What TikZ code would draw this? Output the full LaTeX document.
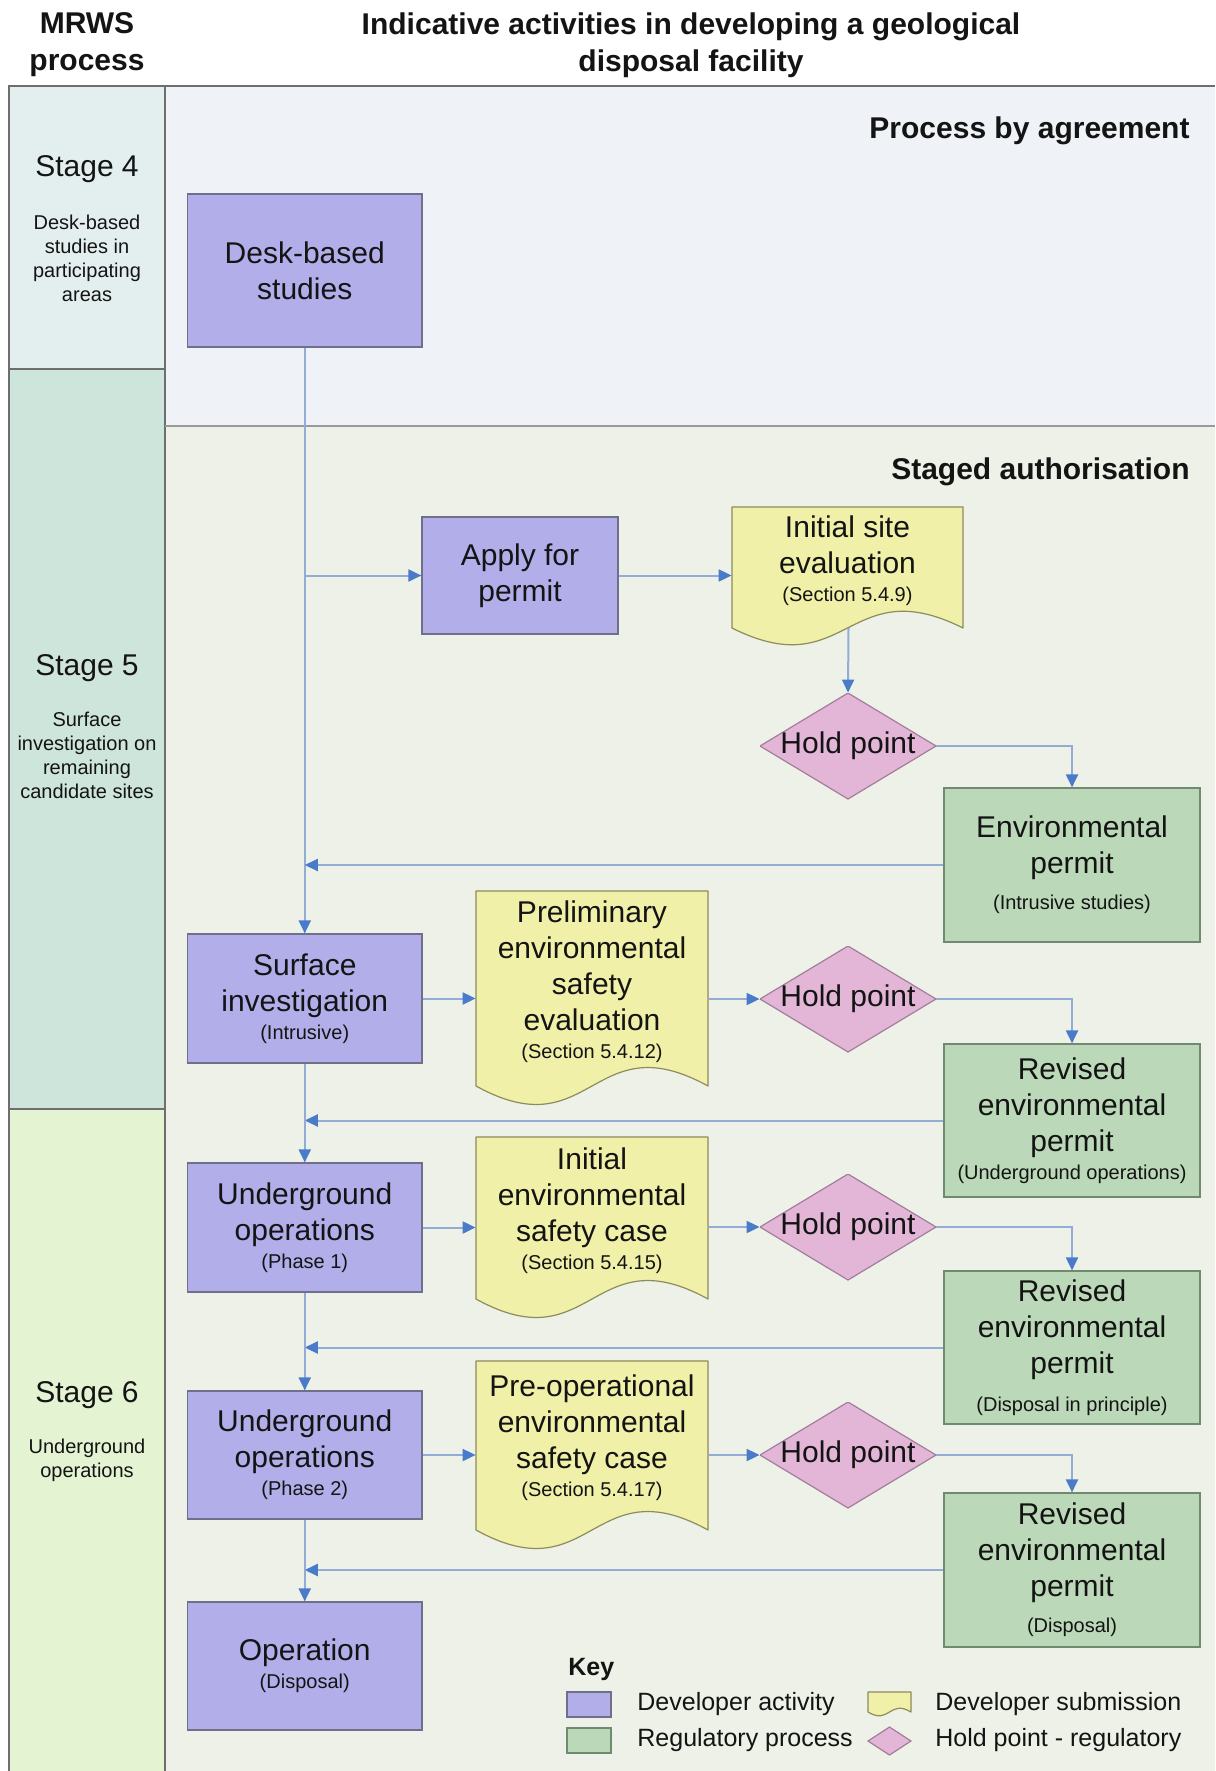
\documentclass[tikz,border=0pt]{standalone}
\usepackage{fontspec}
\setmainfont{Liberation Sans}
\usetikzlibrary{arrows.meta}

% colours
\definecolor{devfill}{HTML}{B2AEEA}
\definecolor{devline}{HTML}{6F6F8C}
\definecolor{regfill}{HTML}{BBD9B8}
\definecolor{regline}{HTML}{6F8A6F}
\definecolor{docfill}{HTML}{F0F0A9}
\definecolor{docline}{HTML}{8C8C5C}
\definecolor{holdfill}{HTML}{E3B5D7}
\definecolor{holdline}{HTML}{A27D9C}
\definecolor{stagefour}{HTML}{E3EFEF}
\definecolor{stagefive}{HTML}{CDE5DA}
\definecolor{stagesix}{HTML}{E4F4D2}
\definecolor{upperpanel}{HTML}{EFF3F8}
\definecolor{lowerpanel}{HTML}{EDF1E7}
\definecolor{connline}{HTML}{93ACD6}
\definecolor{headblue}{HTML}{4A7BCB}
\definecolor{framegray}{HTML}{6E6E6E}
\definecolor{inkcol}{HTML}{141414}

% font sizes
\newcommand\mainfs{\fontsize{15}{18}\selectfont}
\newcommand\titlefs{\fontsize{15}{18.5}\selectfont}
\newcommand\subfs{\fontsize{10}{12}\selectfont}
\newcommand\keyfs{\fontsize{12.5}{15}\selectfont}

% document shape: left x, right x, top y, baseline y, wave control offset
\newcommand\DocShape[5]{%
  \filldraw[fill=docfill,draw=docline,line width=0.6pt,line join=round]
    (#1,#3) -- (#2,#3) -- (#2,#4)
    .. controls ({(#1+#2)/2},{#4-#5}) and ({(#1+#2)/2},{#4+#5}) .. (#1,#4) -- cycle;}

\tikzset{
  every node/.style={text=inkcol},
  dev/.style={draw=devline, fill=devfill, line width=0.6pt, minimum width=117.25pt,
    inner sep=0pt, align=center, font=\mainfs},
  reg/.style={draw=regline, fill=regfill, line width=0.6pt, minimum width=128pt,
    inner sep=0pt, align=center, font=\mainfs},
  doctext/.style={inner sep=0pt, align=center, font=\mainfs},
  holdpt/.style={rectangle, minimum width=88pt, minimum height=53pt, inner sep=0pt,
    font=\mainfs,
    path picture={\filldraw[fill=holdfill,draw=holdline,line width=0.6pt]
      (path picture bounding box.north) -- (path picture bounding box.east)
      -- (path picture bounding box.south) -- (path picture bounding box.west) -- cycle;}},
  conn/.style={draw=connline, line width=1pt},
  arr/.style={conn, -{Triangle[length=6.5pt,width=6pt,color=headblue]}},
  frame/.style={draw=framegray, line width=0.7pt},
  heading/.style={font=\bfseries\titlefs, align=center, inner sep=0pt},
  stagehead/.style={font=\mainfs, inner sep=0pt},
  stagedesc/.style={font=\subfs, align=center, inner sep=0pt},
  keytext/.style={font=\keyfs, inner sep=0pt, anchor=west},
}

\begin{document}
\begin{tikzpicture}[x=0.5pt, y=-0.5pt]
\useasboundingbox (0,0) rectangle (1215,1771);

% background bands
\fill[white] (0,0) rectangle (1215,1771);
\fill[stagefour] (9,86) rectangle (165,369);
\fill[stagefive] (9,369) rectangle (165,1109);
\fill[stagesix] (9,1109) rectangle (165,1771);
\fill[upperpanel] (165,86) rectangle (1215,426);
\fill[lowerpanel] (165,426) rectangle (1215,1771);
\draw[frame] (9,1771) -- (9,86) -- (1215,86);
\draw[frame] (165,86) -- (165,1771);
\draw[frame] (9,369) -- (165,369);
\draw[frame] (9,1109) -- (165,1109);
\draw[draw=gray!80, line width=1pt] (165,426) -- (1215,426);

% column headings
\node[heading] (hmrws) at (87,45) {MRWS\\process};
\node[heading] (hact) at (691,45) {Indicative activities in developing a geological\\disposal facility};
\node[heading, anchor=east] (hagree) at (1190,131) {Process by agreement};
\node[heading, anchor=east] (hstaged) at (1190,471.5) {Staged authorisation};

% stage labels
\node[stagehead] (s4) at (87,169.5) {Stage 4};
\node[stagedesc] (s4d) at (87,258) {Desk-based\\studies in\\participating\\areas};
\node[stagehead] (s5) at (87,668.5) {Stage 5};
\node[stagedesc] (s5d) at (87,755) {Surface\\investigation on\\remaining\\candidate sites};
\node[stagehead] (s6) at (87,1395.5) {Stage 6};
\node[stagedesc] (s6d) at (87,1460) {Underground\\operations};

% developer activities
\node[dev, minimum height=76.5pt] (desk) at (304.75,270.5) {Desk-based\\studies};
\node[dev, minimum width=98pt, minimum height=58.5pt] (apply) at (520,575.5) {Apply for\\permit};
\node[dev, minimum height=64.5pt] (surf) at (304.75,998.5) {Surface\\investigation\\[-4pt]{\subfs (Intrusive)}};
\node[dev, minimum height=64.5pt] (ugone) at (304.75,1227.5) {Underground\\operations\\[-4pt]{\subfs (Phase 1)}};
\node[dev, minimum height=64pt] (ugtwo) at (304.75,1455) {Underground\\operations\\[-4pt]{\subfs (Phase 2)}};
\node[dev, minimum height=64pt] (oper) at (304.75,1666) {Operation\\[-4pt]{\subfs (Disposal)}};

% developer submissions
\DocShape{732}{963}{507}{628}{58}
\DocShape{476}{708}{891}{1086}{64}
\DocShape{476}{708}{1137}{1299}{64}
\DocShape{476}{708}{1361}{1530}{64}
\node[doctext, minimum width=115.5pt] (docone) at (847.5,561) {Initial site\\evaluation\\[-4pt]{\subfs (Section 5.4.9)}};
\node[doctext, minimum width=116pt] (doctwo) at (592,982) {Preliminary\\environmental\\safety\\evaluation\\[-4pt]{\subfs (Section 5.4.12)}};
\node[doctext, minimum width=116pt] (docthree) at (592,1211) {Initial\\environmental\\safety case\\[-4pt]{\subfs (Section 5.4.15)}};
\node[doctext, minimum width=116pt] (docfour) at (592,1437.5) {Pre-operational\\environmental\\safety case\\[-4pt]{\subfs (Section 5.4.17)}};
\coordinate (doconeout) at (848.5,628);

% hold points
\node[holdpt] (holdone) at (848,746) {Hold point};
\node[holdpt] (holdtwo) at (848,999) {Hold point};
\node[holdpt] (holdthree) at (848,1227) {Hold point};
\node[holdpt] (holdfour) at (848,1455) {Hold point};

% regulatory process
\node[reg, minimum height=77pt] (envp) at (1072,865) {Environmental\\permit\\[0pt]{\subfs (Intrusive studies)}};
\node[reg, minimum height=76.5pt] (revone) at (1072,1120.5) {Revised\\environmental\\permit\\[-4pt]{\subfs (Underground operations)}};
\node[reg, minimum height=76.5pt] (revtwo) at (1072,1347.5) {Revised\\environmental\\permit\\[1pt]{\subfs (Disposal in principle)}};
\node[reg, minimum height=77pt] (revthree) at (1072,1570) {Revised\\environmental\\permit\\[0pt]{\subfs (Disposal)}};

% main trunk and branches
\draw[arr] (desk.south) -- (surf.north);
\draw[arr] (apply.west -| desk.south) -- (apply.west);
\draw[arr] (apply.east) -- (apply.east -| docone.west);
\draw[arr] (doconeout) -- (holdone.north);
\draw[arr] (holdone.east) -| (envp.north);
\draw[arr] (envp.west) -- (envp.west -| desk.south);

\draw[arr] (surf.east) -- (surf.east -| doctwo.west);
\draw[arr] (holdtwo.west -| doctwo.east) -- (holdtwo.west);
\draw[arr] (holdtwo.east) -| (revone.north);
\draw[arr] (revone.west) -- (revone.west -| surf.south);
\draw[arr] (surf.south) -- (ugone.north);

\draw[arr] (ugone.east) -- (ugone.east -| docthree.west);
\draw[arr] (holdthree.west -| docthree.east) -- (holdthree.west);
\draw[arr] (holdthree.east) -| (revtwo.north);
\draw[arr] (revtwo.west) -- (revtwo.west -| ugone.south);
\draw[arr] (ugone.south) -- (ugtwo.north);

\draw[arr] (ugtwo.east) -- (ugtwo.east -| docfour.west);
\draw[arr] (holdfour.west -| docfour.east) -- (holdfour.west);
\draw[arr] (holdfour.east) -| (revthree.north);
\draw[arr] (revthree.west) -- (revthree.west -| ugtwo.south);
\draw[arr] (ugtwo.south) -- (oper.north);

% key
\node[font=\bfseries\keyfs, inner sep=0pt, anchor=west] (keyhead) at (568,1669) {Key};
\node[draw=devline, fill=devfill, line width=0.6pt, minimum width=22pt, minimum height=12.5pt, inner sep=0pt] (keydev) at (589,1704.5) {};
\node[draw=regline, fill=regfill, line width=0.6pt, minimum width=22pt, minimum height=12.5pt, inner sep=0pt] (keyreg) at (589,1740.5) {};
\DocShape{868}{911}{1692}{1712}{13}
\filldraw[fill=holdfill, draw=holdline, line width=0.6pt] (889.5,1727) -- (911,1741) -- (889.5,1755) -- (868,1741) -- cycle;
\node[keytext] (kdev) at (637,1704) {Developer activity};
\node[keytext] (kreg) at (637,1740) {Regulatory process};
\node[keytext] (ksub) at (935,1704) {Developer submission};
\node[keytext] (khold) at (935,1740) {Hold point - regulatory};
\end{tikzpicture}
\end{document}
